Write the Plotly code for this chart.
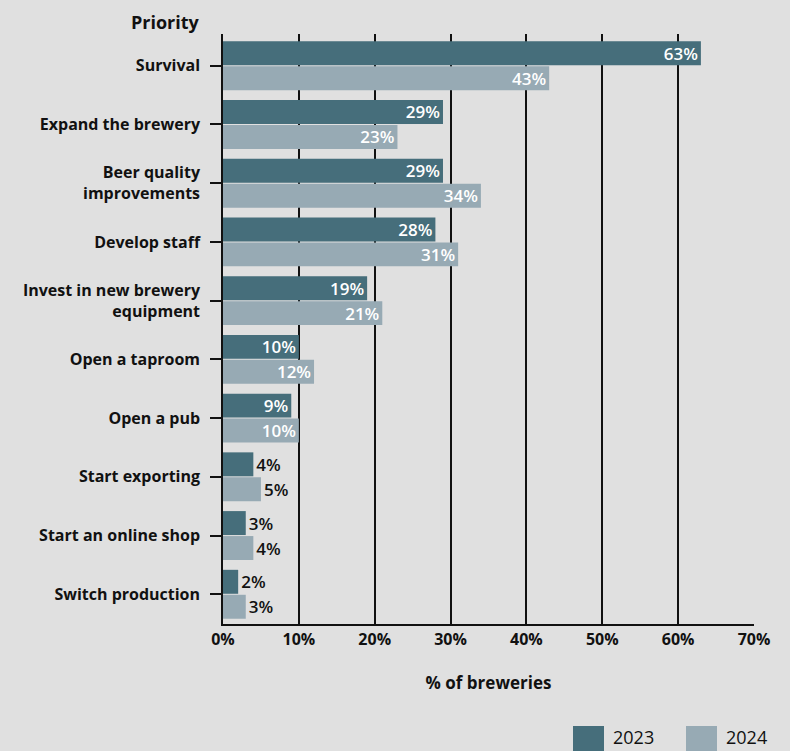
import plotly.graph_objects as go

# Brewery priorities survey, share of breweries by year
priorities = [
    "Survival",
    "Expand the brewery",
    "Beer quality<br>improvements",
    "Develop staff",
    "Invest in new brewery<br>equipment",
    "Open a taproom",
    "Open a pub",
    "Start exporting",
    "Start an online shop",
    "Switch production",
]
share_2023 = [63, 29, 29, 28, 19, 10, 9, 4, 3, 2]
share_2024 = [43, 23, 34, 31, 21, 12, 10, 5, 4, 3]
x_ticks = [0, 10, 20, 30, 40, 50, 60, 70]

DARK = "#466e7b"
LIGHT = "#97aab4"
BG = "#e0e0e0"
FONT = "Open Sans"

# plot area in pixels (used for paper-coordinate placement of extras)
W, H = 790, 751
ML, MR, MT, MB = 223, 36, 34, 127
PW, PH = W - ML - MR, H - MT - MB


def px_x(px):
    return (px - ML) / PW


def px_y(py):
    return (H - MB - py) / PH


def bar_trace(name, values, color):
    pos = ["inside" if v >= 9 else "outside" for v in values]
    return go.Bar(
        name=name,
        y=priorities,
        x=values,
        orientation="h",
        marker=dict(color=color, line=dict(width=0)),
        text=[f"{v}%" for v in values],
        textposition=pos,
        insidetextanchor="end",
        insidetextfont=dict(color="white", size=17, family=FONT, weight=600),
        outsidetextfont=dict(color="#111111", size=17, family=FONT, weight=600),
        textangle=0,
        cliponaxis=False,
        showlegend=False,
    )


fig = go.Figure()
fig.add_trace(bar_trace("2023", share_2023, DARK))
fig.add_trace(bar_trace("2024", share_2024, LIGHT))

fig.update_layout(
    width=W,
    height=H,
    margin=dict(l=ML, r=MR, t=MT, b=MB),
    paper_bgcolor=BG,
    plot_bgcolor=BG,
    barmode="group",
    bargap=0.15,
    bargroupgap=0.04,
    font=dict(family=FONT, color="#111111", size=16),
    uniformtext=dict(mode="show", minsize=17),
)

fig.update_xaxes(
    range=[0, 70],
    tickvals=x_ticks,
    ticktext=[f"{t}%" for t in x_ticks],
    showgrid=True,
    gridcolor="#111111",
    gridwidth=1.5,
    zeroline=False,
    showline=True,
    linecolor="#111111",
    linewidth=1.5,
    ticks="",
    tickfont=dict(size=16, family=FONT, weight="bold"),
    title=dict(
        text="% of breweries",
        font=dict(size=17, family=FONT, weight="bold"),
        standoff=28,
    ),
)

fig.update_yaxes(
    range=[9.506, -0.54],
    showgrid=False,
    showline=True,
    linecolor="#111111",
    linewidth=1.5,
    ticks="outside",
    ticklen=11,
    tickwidth=1.5,
    tickcolor="#111111",
    ticklabelstandoff=7,
    tickfont=dict(size=16, family=FONT, weight="bold"),
)

# axis heading above the category labels
fig.add_annotation(
    text="Priority",
    xref="paper", yref="paper",
    x=px_x(202), y=px_y(22),
    xanchor="right", yanchor="middle",
    showarrow=False,
    font=dict(size=18, family=FONT, color="#111111", weight="bold"),
)

# legend swatches and labels
for label, color, x0 in [("2023", DARK, 573), ("2024", LIGHT, 686)]:
    fig.add_shape(
        type="rect",
        xref="paper", yref="paper",
        x0=px_x(x0), x1=px_x(x0 + 31),
        y0=px_y(726), y1=px_y(760),
        fillcolor=color,
        line=dict(width=0),
    )
    fig.add_annotation(
        text=label,
        xref="paper", yref="paper",
        x=px_x(x0 + 38), y=px_y(737),
        xanchor="left", yanchor="middle",
        showarrow=False,
        font=dict(size=18, family=FONT, color="#111111"),
    )

fig.write_html("out.html")
